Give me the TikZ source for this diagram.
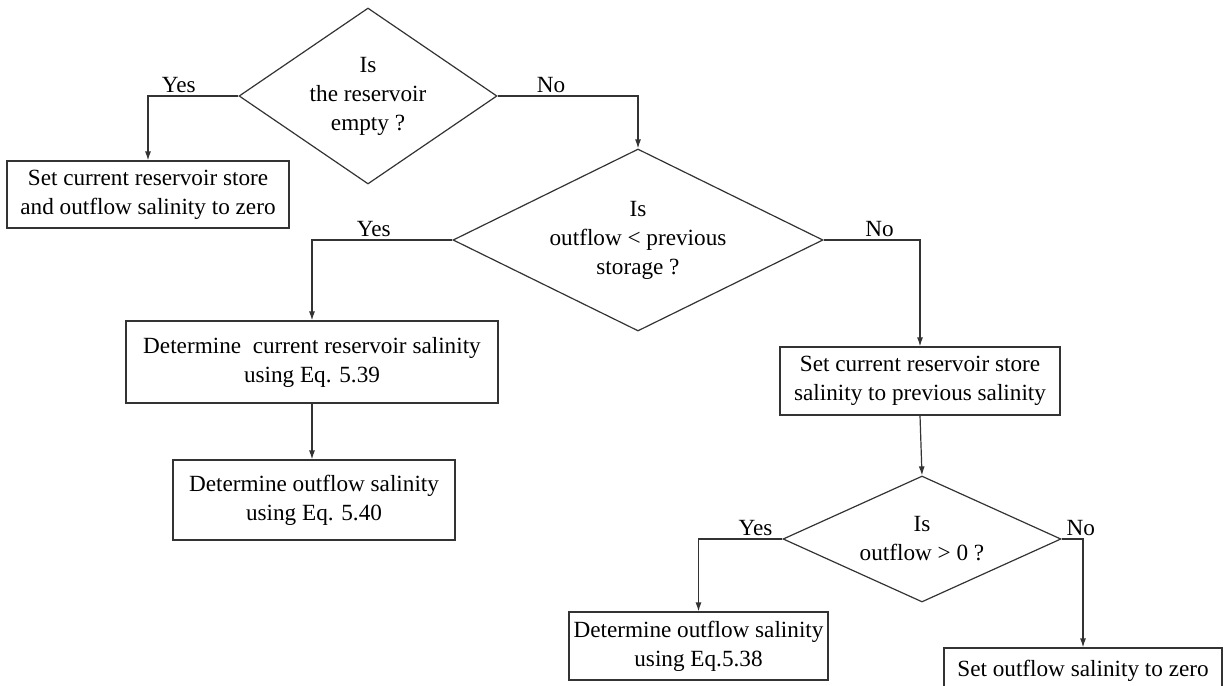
\documentclass[tikz,border=0pt]{standalone}
\usepackage{fontspec}
\setmainfont{Liberation Serif}
\usetikzlibrary{shapes.geometric,arrows.meta}

\begin{document}
\begin{tikzpicture}[x=0.5pt,y=-0.5pt,
    line width=0.6pt, draw=black!80,
    >={Latex[length=4.5pt,width=3pt]},
    every node/.style={font=\fontsize{11.6}{14.5}\selectfont},
    box/.style={rectangle,draw,align=center,inner sep=0pt},
    decision/.style={diamond,draw,inner sep=0pt,
        label={[align=center]center:#1}},
    lbl/.style={above,inner sep=1.5pt}]
            \useasboundingbox (0,0) rectangle (1230,685);
            % decisions (text sits in a centred label so the diamond keeps its size)
            \node[decision={Is\\the reservoir\\empty ?},minimum width=129pt,minimum height=88pt] (d1) at (368,96) {};
            \node[decision={Is\\outflow < previous\\storage ?},minimum width=185pt,minimum height=91pt] (d2) at (638,240) {};
            \node[decision={Is\\outflow > 0 ?},minimum width=139pt,minimum height=63pt] (d3) at (922,539) {};
            % actions
            \node[box,minimum width=141pt,minimum height=33.5pt] (empty) at (148,194.5) {Set current reservoir store\\and outflow salinity to zero};
            \node[box,minimum width=186pt,minimum height=41pt] (res) at (312,362) {Determine\ \ current reservoir salinity\\using Eq. 5.39};
            \node[box,minimum width=141pt,minimum height=40pt] (out) at (314,500) {Determine outflow salinity\\using Eq. 5.40};
            \node[box,minimum width=140pt,minimum height=34pt] (prev) at (920,381) {Set current reservoir store\\salinity to previous salinity};
            \node[box,minimum width=129.5pt,minimum height=34pt] (eq) at (698.5,646) {Determine outflow salinity\\using Eq.5.38};
            \node[box,minimum width=139pt,minimum height=23pt] (zero) at (1083,671) {Set outflow salinity to zero};
            % connectors
            \draw[->] (d1.west) -| node[lbl,pos=0.33]{Yes} (empty.north);
            \draw[->] (d1.east) -| node[lbl,pos=0.19]{No} (d2.north);
            \draw[->] (d2.west) -| node[lbl,pos=0.28]{Yes} (res.north);
            \draw[->] (d2.east) -| node[lbl,pos=0.29]{No} (prev.north);
            \draw[->] (res.south) -- (res.south |- out.north);
            \draw[->] (prev.south) -- (d3.north);
            \draw[->] (d3.west) -| node[lbl,pos=0.16]{Yes} (eq.north);
            \draw[->] (d3.east) -| node[lbl,pos=0.45]{No} (zero.north);
\end{tikzpicture}
\end{document}
